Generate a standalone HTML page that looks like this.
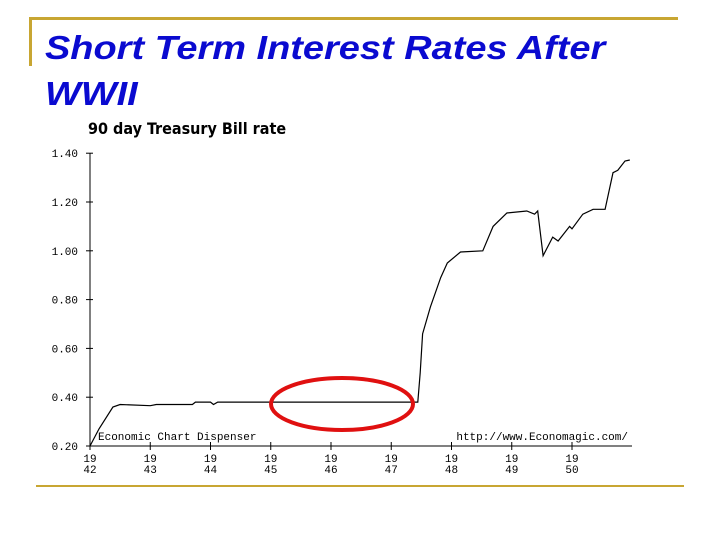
<!DOCTYPE html>
<html><head><meta charset="utf-8"><style>
body{margin:0;background:#fff;}
#wrap{position:relative;width:720px;height:540px;overflow:hidden;background:#fff;font-family:"Liberation Sans",sans-serif;}
.t{position:absolute;left:45px;font-weight:bold;font-style:italic;font-size:33px;color:#0a0ad0;white-space:nowrap;transform:scaleX(1.15);transform-origin:0 0;}
</style></head><body>
<div id="wrap">
<div style="position:absolute;left:29px;top:17px;width:649px;height:3px;background:#c8a632"></div>
<div style="position:absolute;left:29px;top:17px;width:3px;height:49px;background:#c8a632"></div>
<div style="position:absolute;left:36px;top:485px;width:648px;height:2px;background:#c8a632"></div>
<div class="t" style="top:29px">Short Term Interest Rates After</div>
<div class="t" style="top:75px">WWII</div>
<svg id="chart" width="720" height="540" style="position:absolute;left:0;top:0"></svg>
</div>
<script>
const yearTicks=[1942,1943,1944,1945,1946,1947,1948,1949,1950];
const yTicks=[0.20,0.40,0.60,0.80,1.00,1.20,1.40];
const years=[1942.0,1942.15,1942.38,1942.5,1943.0,1943.1,1943.7,1943.75,1944.0,1944.05,1944.12,1947.44,1947.48,1947.52,1947.65,1947.82,1947.93,1948.15,1948.52,1948.69,1948.92,1949.25,1949.38,1949.43,1949.52,1949.68,1949.77,1949.96,1950.0,1950.18,1950.35,1950.55,1950.68,1950.76,1950.88,1950.96];
const rates=[0.20,0.27,0.36,0.37,0.365,0.37,0.37,0.38,0.38,0.37,0.38,0.38,0.50,0.66,0.77,0.89,0.95,0.995,1.0,1.10,1.155,1.163,1.15,1.163,0.98,1.056,1.04,1.10,1.09,1.15,1.17,1.17,1.32,1.33,1.368,1.372];
const NS="http://www.w3.org/2000/svg";
const svg=document.getElementById('chart');
const X=y=>90+(y-1942)*60.25;
const Y=v=>446-(v-0.2)/0.2*48.8;
function mk(tag,attrs){const e=document.createElementNS(NS,tag);for(const k in attrs)e.setAttribute(k,attrs[k]);svg.appendChild(e);return e;}
const ct=mk('text',{x:88,y:134,'font-family':'"DejaVu Sans Condensed","Liberation Sans",sans-serif','font-weight':'bold','font-size':'16',fill:'#000'});
ct.textContent='90 day Treasury Bill rate';


const ya=mk('line',{x1:90,y1:153,x2:90,y2:446,stroke:'#000','stroke-width':1});


const xa=mk('line',{x1:90,y1:446,x2:632,y2:446,stroke:'#000','stroke-width':1});


yTicks.forEach(v=>{
  const tk=mk('line',{x1:86,y1:Y(v),x2:93,y2:Y(v),stroke:'#000','stroke-width':1});
  
  
  const t=mk('text',{x:78,y:Y(v)+4,'text-anchor':'end','font-family':'"Liberation Mono",monospace','font-size':'11',fill:'#000'});
  t.textContent=v.toFixed(2);
  
  
});
yearTicks.forEach(yr=>{
  const x=X(yr);
  const tk=mk('line',{x1:x,y1:442,x2:x,y2:450,stroke:'#000','stroke-width':1});
  
  
  const s=String(yr);
  const t1=mk('text',{x:x,y:462,'text-anchor':'middle','font-family':'"Liberation Mono",monospace','font-size':'11',fill:'#000'});
  t1.textContent=s.slice(0,2);
  
  
  const t2=mk('text',{x:x,y:473,'text-anchor':'middle','font-family':'"Liberation Mono",monospace','font-size':'11',fill:'#000'});
  t2.textContent=s.slice(2);
  
  
});
const c1=mk('text',{x:98,y:440,'font-family':'"Liberation Mono",monospace','font-size':'11',fill:'#000'});
c1.textContent='Economic Chart Dispenser';


const c2=mk('text',{x:628,y:440,'text-anchor':'end','font-family':'"Liberation Mono",monospace','font-size':'11',fill:'#000'});
c2.textContent='http://www.Economagic.com/';


const pts=years.map((y,i)=>X(y).toFixed(1)+','+Y(rates[i]).toFixed(1)).join(' ');
const ln=mk('polyline',{points:pts,fill:'none',stroke:'#000','stroke-width':1.2});


const el=mk('ellipse',{cx:342,cy:404,rx:71,ry:26,fill:'none',stroke:'#e01010','stroke-width':4});


</script>
</body></html>
